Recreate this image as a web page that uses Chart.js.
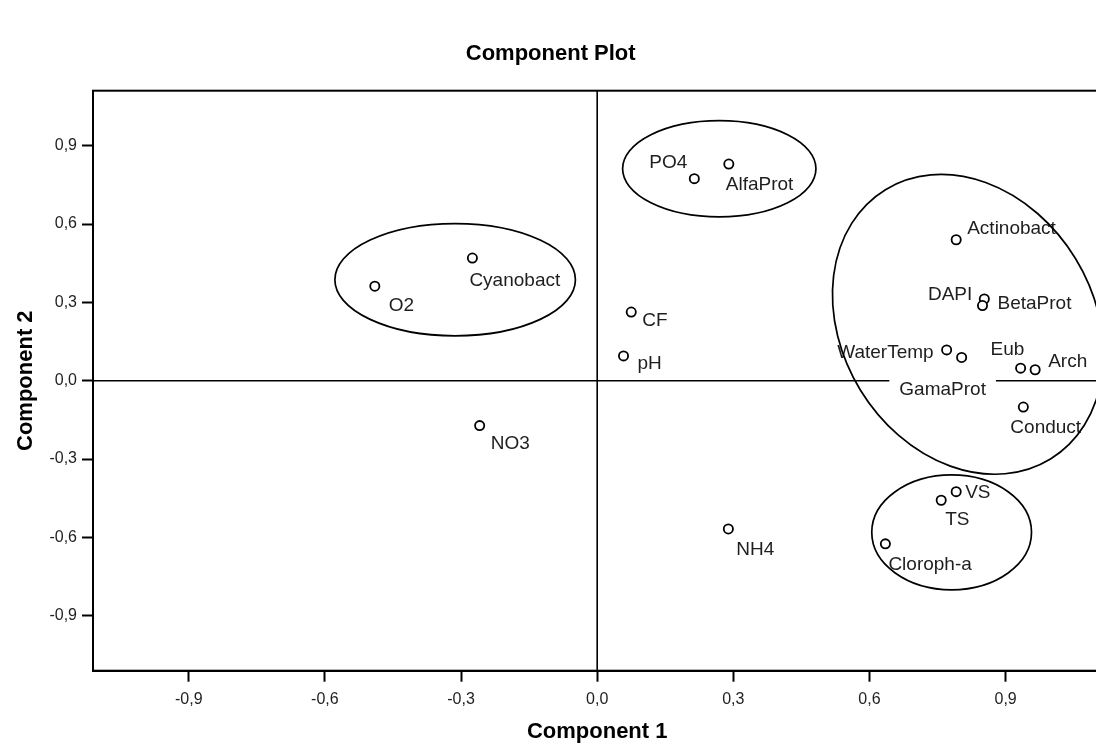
<!DOCTYPE html>
<html lang="en">
<head>
<meta charset="UTF-8">
<title>Component Plot</title>
<script src="https://cdn.jsdelivr.net/npm/chart.js@4.4.0/dist/chart.umd.min.js"></script>
<style>
    html, body { margin: 0; padding: 0; background: #fff; overflow: hidden; }
    #wrap { position: relative; width: 1110px; height: 745px; }
</style>
</head>
<body>
<div id="wrap"><canvas id="componentPlot" width="1110" height="745"></canvas></div>
<script>
// loadings on the first two components
const variables = ['O2', 'Cyanobact', 'NO3', 'PO4', 'AlfaProt', 'CF', 'pH', 'NH4', 'Actinobact', 'DAPI',
    'BetaProt', 'WaterTemp', 'GamaProt', 'Eub', 'Arch', 'Conduct', 'VS', 'TS', 'Cloroph-a'];
const comp1 = [-0.490, -0.275, -0.259, 0.214, 0.290, 0.075, 0.058, 0.289, 0.791, 0.853,
    0.849, 0.770, 0.803, 0.933, 0.965, 0.939, 0.791, 0.758, 0.635];
const comp2 = [0.362, 0.470, -0.172, 0.774, 0.830, 0.263, 0.095, -0.568, 0.540, 0.313,
    0.288, 0.118, 0.089, 0.048, 0.042, -0.101, -0.425, -0.458, -0.625];
const axisTicks = [-0.9, -0.6, -0.3, 0.0, 0.3, 0.6, 0.9];

// where each name sits relative to its marker (px) and how it is aligned
const labelPlacement = [
    [14, 20, 'left'], [-3, 23, 'left'], [11, 18, 'left'], [-7, -16, 'right'], [-3, 21, 'left'],
    [11, 9, 'left'], [14, 8, 'left'], [8, 21, 'left'], [11, -11, 'left'], [-12, -4, 'right'],
    [15, -2, 'left'], [-13, 3, 'right'], [-19, 32, 'center'], [-30, -18, 'left'], [13, -8, 'left'],
    [-13, 21, 'left'], [9, 1, 'left'], [4, 20, 'left'], [3, 21, 'left']
];

// circled groups: centre in loading units, radii in units of each axis, tilt in degrees
const groups = [
    { cx: -0.313, cy: 0.387, rx: 0.265, ry: 0.215, tilt: 0 },
    { cx: 0.269, cy: 0.812, rx: 0.213, ry: 0.184, tilt: 0 },
    { cx: 0.817, cy: 0.216, rx: 0.348, ry: 0.483, tilt: 58.5 },
    { cx: 0.781, cy: -0.581, rx: 0.176, ry: 0.220, tilt: 0 }
];

const FONT = 'Arial, "Liberation Sans", sans-serif';
const fmt = v => Number(v).toFixed(1).replace('.', ',');

const plotDecor = {
    id: 'plotDecor',
    beforeDatasetsDraw(chart) {
        const { ctx, chartArea: a, scales: { x, y } } = chart;
        ctx.save();
        // reference lines through the origin
        ctx.strokeStyle = '#000';
        ctx.lineWidth = 1.6;
        ctx.beginPath();
        ctx.moveTo(a.left, y.getPixelForValue(0));
        ctx.lineTo(a.right, y.getPixelForValue(0));
        ctx.moveTo(x.getPixelForValue(0), a.top);
        ctx.lineTo(x.getPixelForValue(0), a.bottom);
        ctx.stroke();

        // variable names on white boxes
        ctx.font = '19px ' + FONT;
        ctx.textBaseline = 'middle';
        variables.forEach((name, i) => {
            const [dx, dy, align] = labelPlacement[i];
            const px = x.getPixelForValue(comp1[i]) + dx;
            const py = y.getPixelForValue(comp2[i]) + dy;
            const w = ctx.measureText(name).width;
            let left = px;
            if (align === 'right') left = px - w;
            if (align === 'center') left = px - w / 2;
            ctx.fillStyle = '#fff';
            ctx.fillRect(left - 10, py - 10, w + 20, 20);
            ctx.fillStyle = '#1e1e1e';
            ctx.textAlign = 'left';
            ctx.fillText(name, left, py);
        });
        ctx.restore();
    },
    afterDatasetsDraw(chart) {
        const { ctx, chartArea: a, scales: { x, y } } = chart;
        ctx.save();
        ctx.strokeStyle = '#000';
        ctx.lineWidth = 1.7;
        groups.forEach(g => {
            const cx = x.getPixelForValue(g.cx);
            const cy = y.getPixelForValue(g.cy);
            const rx = Math.abs(x.getPixelForValue(g.cx + g.rx) - cx);
            const ry = Math.abs(y.getPixelForValue(g.cy + g.ry) - cy);
            ctx.beginPath();
            ctx.ellipse(cx, cy, rx, ry, g.tilt * Math.PI / 180, 0, Math.PI * 2);
            ctx.stroke();
        });
        // plot frame
        ctx.lineWidth = 2;
        ctx.strokeRect(a.left, a.top, a.right - a.left, a.bottom - a.top);
        ctx.restore();
    }
};

new Chart(document.getElementById('componentPlot'), {
    type: 'scatter',
    data: {
        datasets: [{
            data: comp1.map((v, i) => ({ x: v, y: comp2[i] })),
            pointRadius: 4.6,
            pointHoverRadius: 4.6,
            pointBorderWidth: 1.8,
            borderColor: '#000',
            backgroundColor: '#fff'
        }]
    },
    options: {
        responsive: false,
        animation: false,
        devicePixelRatio: 1,
        layout: { padding: { left: 0, right: 8.6, top: 0, bottom: 0 } },
        plugins: {
            legend: { display: false },
            tooltip: { enabled: false },
            title: {
                display: true,
                text: 'Component Plot',
                color: '#000',
                font: { family: FONT, size: 22, weight: 'bold' },
                padding: { top: 41, bottom: 23.3 }
            }
        },
        scales: {
            x: {
                type: 'linear',
                min: -1.111,
                max: 1.111,
                afterBuildTicks: s => { s.ticks = axisTicks.map(v => ({ value: v })); },
                afterFit: s => { s.height = 74.3; },
                grid: { drawOnChartArea: false, drawTicks: true, tickLength: 11, tickColor: '#000', tickWidth: 2 },
                border: { display: true, color: '#000', width: 2 },
                ticks: { callback: fmt, color: '#1e1e1e', font: { family: FONT, size: 16 }, padding: 8, maxRotation: 0, autoSkip: false },
                title: { display: true, text: 'Component 1', color: '#000', font: { family: FONT, size: 22, weight: 'bold' }, padding: { top: 0, bottom: 0 } }
            },
            y: {
                type: 'linear',
                min: -1.111,
                max: 1.111,
                afterBuildTicks: s => { s.ticks = axisTicks.map(v => ({ value: v })); },
                afterFit: s => { s.width = 93; },
                grid: { drawOnChartArea: false, drawTicks: true, tickLength: 11, tickColor: '#000', tickWidth: 2 },
                border: { display: true, color: '#000', width: 2 },
                ticks: { callback: fmt, color: '#1e1e1e', font: { family: FONT, size: 16 }, padding: 5, autoSkip: false },
                title: { display: true, text: 'Component 2', color: '#000', font: { family: FONT, size: 22, weight: 'bold' }, padding: { top: 13, bottom: 0 } }
            }
        }
    },
    plugins: [plotDecor]
});
</script>
</body>
</html>
